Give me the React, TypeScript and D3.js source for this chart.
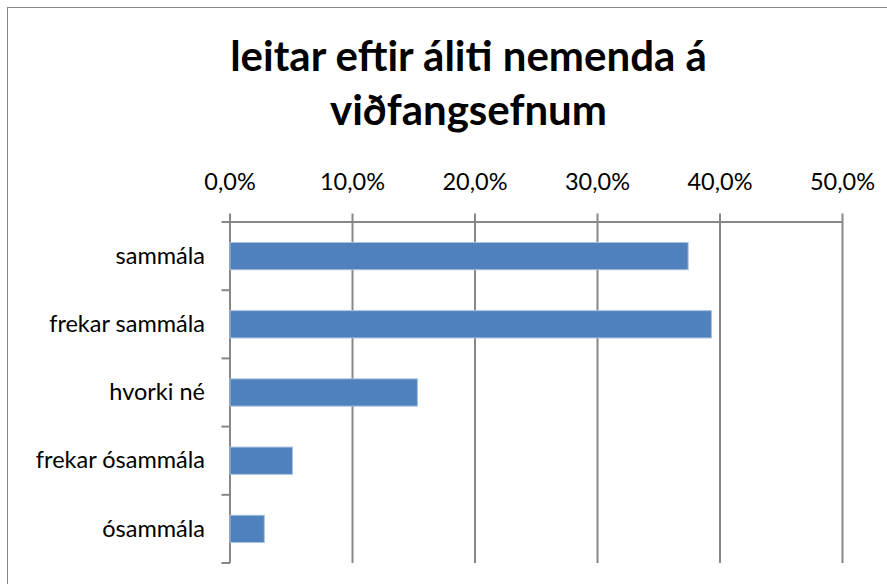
import React from "react";
import * as d3 from "d3";

const categories = ["sammála", "frekar sammála", "hvorki né", "frekar ósammála", "ósammála"];
const values = [37.4, 39.3, 15.3, 5.1, 2.8];
const xTicks = [0, 10, 20, 30, 40, 50];
const titleLines = ["leitar eftir áliti nemenda á", "viðfangsefnum"];

const W = 887;
const H = 584;
const FONT = "Lato, Carlito, Calibri, 'Open Sans', sans-serif";
const GRID = "#878787";

export default function App() {
  const left = 230, right = 842.5, top = 222, bottom = 563;
  const x = d3.scaleLinear().domain([0, 50]).range([left, right]);
  const y = d3.scaleBand<string>().domain(categories).range([top, bottom]).paddingInner(0.6).paddingOuter(0.3);
  const band = d3.scaleBand<string>().domain(categories).range([top, bottom]);
  const fmt = (v: number) => v.toFixed(1).replace(".", ",") + "%";

  return (
    <svg width={W} height={H} style={{ position: "absolute", left: 0, top: 0, background: "#fff" }} fontFamily={FONT}>
      <rect x={7.5} y={7.5} width={W + 20} height={H + 20} fill="#fff" stroke="#888" strokeWidth={1} />
      <g fontWeight="bold" fontSize={42} textAnchor="middle" fill="#000">
        {titleLines.map((t, i) => (
          <text key={i} x={468.5} y={71 + i * 54}>{t}</text>
        ))}
      </g>
      {/* gridlines */}
      {xTicks.map((t) => (
        <line key={"g" + t} x1={x(t)} x2={x(t)} y1={top - 8.5} y2={bottom} stroke={GRID} strokeWidth={2} />
      ))}
      {/* top axis line */}
      <line x1={left - 8.5} x2={right} y1={top} y2={top} stroke={GRID} strokeWidth={2} />
      {/* left category ticks */}
      {categories.map((c, i) => (
        <line key={"t" + i} x1={left - 8.5} x2={left} y1={(band(c) as number) + band.bandwidth()} y2={(band(c) as number) + band.bandwidth()} stroke={GRID} strokeWidth={2} />
      ))}
      {/* tick labels */}
      <g fontSize={23.5} textAnchor="middle" fill="#000">
        {xTicks.map((t) => (
          <text key={"l" + t} x={x(t)} y={190}>{fmt(t)}</text>
        ))}
      </g>
      {/* bars */}
      {categories.map((c, i) => (
        <rect key={"b" + i} x={x(0)} y={y(c)} width={x(values[i]) - x(0)} height={y.bandwidth()} fill="#4F81BD" stroke="#A9C1DF" strokeWidth={1} />
      ))}
      {/* category labels */}
      <g fontSize={23.5} textAnchor="end" fill="#000">
        {categories.map((c) => (
          <text key={"c" + c} x={205} y={(band(c) as number) + band.bandwidth() / 2} dy="0.33em">{c}</text>
        ))}
      </g>
    </svg>
  );
}
